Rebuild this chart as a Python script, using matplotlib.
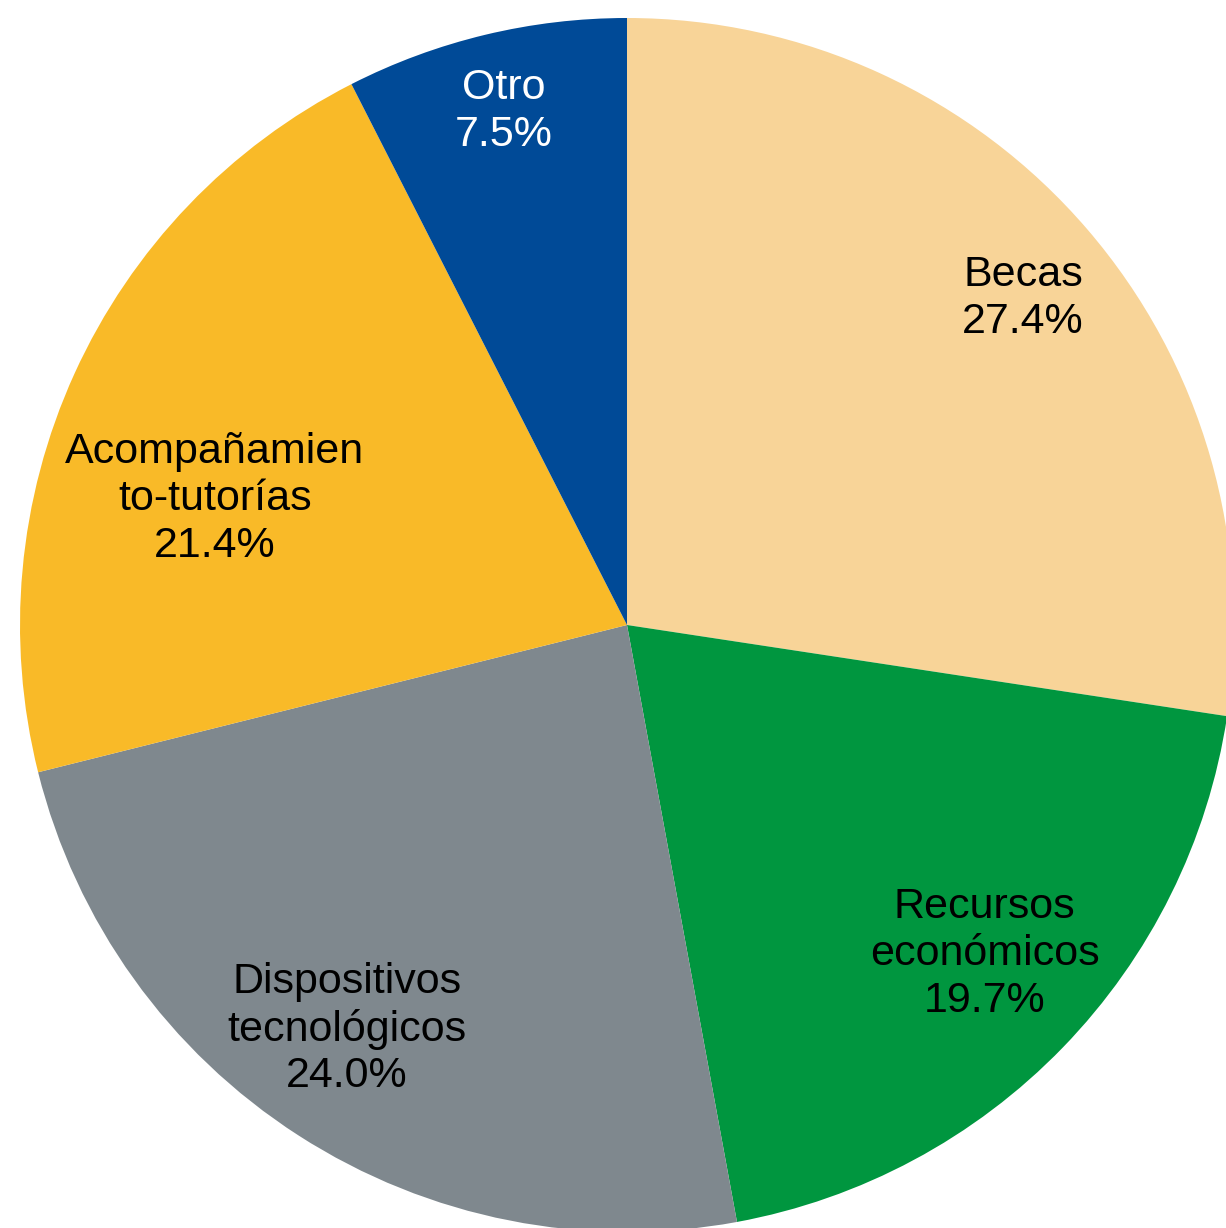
import numpy as np
import matplotlib.pyplot as plt

plt.rcParams['font.family'] = ['Liberation Sans', 'DejaVu Sans']

labels = ['Becas', 'Recursos\neconómicos', 'Dispositivos\ntecnológicos',
          'Acompañamien\nto-tutorías', 'Otro']
values = [27.4, 19.7, 24.0, 21.4, 7.5]
colors = ['#F8D498', '#00963F', '#7F888E', '#F9BA28', '#004A97']
text_colors = ['black', 'black', 'black', 'black', 'white']
# label placement: fraction of radius, angle shift in degrees
label_r = [0.845, 0.80, 0.81, 0.71, 0.87]
label_shift = [-1.2, 1.5, -2, 7.5, 0]

fig = plt.figure(figsize=(12.26, 12.28), dpi=100)
ax = fig.add_axes([0, 0, 1, 1])

wedges, _ = ax.pie(values, colors=colors, startangle=90, counterclock=False,
                   radius=1.0, center=(0, 0))

for w, lab, val, r, sh, tc in zip(wedges, labels, values, label_r, label_shift, text_colors):
    ang = np.deg2rad((w.theta1 + w.theta2) / 2 + sh)
    ax.text(r * np.cos(ang), r * np.sin(ang), f'{lab}\n{val:.1f}%',
            ha='center', va='center', fontsize=31, color=tc, linespacing=1.22)

px = 607.0
ax.set_xlim(-627 / px, (1226 - 627) / px)
ax.set_ylim(-(1228 - 625) / px, 625 / px)
ax.set_aspect('equal')
ax.axis('off')

plt.savefig('out.png', dpi=100)
